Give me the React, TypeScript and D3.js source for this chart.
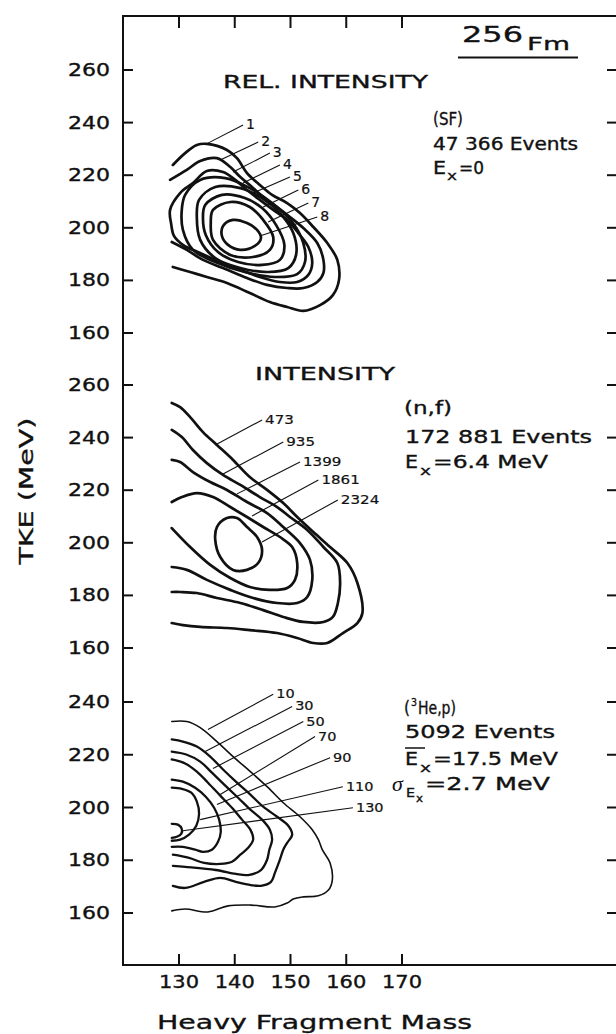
import React from 'react';
import * as d3 from 'd3';

type Pt = [number, number];

// ---------- tick values ----------
const massTicks = [130, 140, 150, 160, 170];
const sfTicks = [160, 180, 200, 220, 240, 260];
const nfTicks = [160, 180, 200, 220, 240, 260];
const heTicks = [160, 180, 200, 220, 240];

// ---------- (SF) relative-intensity contours, [mass, TKE] ----------
const sfLevel1: Pt[] = [[128.9,223.9],[131.1,228.4],[133.2,231.5],[135.0,231.9],[138.6,229.6],[140.4,226.5],[142.2,220.8],[144.5,216.3],[146.7,212.5],[149.4,209.4],[151.7,205.6],[154.1,200.3],[156.6,194.2],[158.4,187.8],[158.7,180.2],[157.6,174.4],[155.3,170.6],[152.3,168.4],[149.4,169.9],[146.3,171.8],[142.7,175.2],[138.6,179.0],[135.0,181.3],[132.0,183.2],[128.9,185.1]];
const sfLevel2: Pt[] = [[128.4,218.2],[131.4,222.0],[133.8,225.4],[136.8,226.5],[139.2,223.1],[141.0,219.3],[143.1,215.5],[145.1,211.7],[147.6,207.9],[149.9,204.1],[152.3,199.9],[154.8,194.2],[155.9,187.8],[155.9,182.8],[154.8,179.4],[152.3,177.1],[149.4,177.1],[145.8,178.3],[142.2,180.9],[137.9,184.7],[134.3,187.8],[131.4,191.6],[128.7,194.6]];
const sfLevel3: Pt[] = [[128.4,206.8],[130.2,213.2],[132.5,217.0],[135.0,221.6],[137.9,221.2],[140.1,218.2],[142.2,214.4],[144.5,210.6],[146.9,206.8],[149.4,203.0],[151.4,198.0],[153.2,192.7],[153.9,186.6],[153.2,182.1],[151.2,179.4],[148.1,179.4],[144.5,181.3],[141.0,184.0],[137.4,187.0],[133.8,190.4],[130.7,193.5],[129.1,196.9],[128.6,201.4]];
const sfLevel4: Pt[] = [[131.1,212.5],[133.8,218.2],[138.3,218.9],[142.7,215.1],[146.7,209.4],[150.3,202.2],[152.3,194.2],[152.6,187.0],[151.2,182.4],[147.2,181.3],[141.8,183.2],[136.5,187.0],[132.5,191.6],[130.7,199.2],[130.5,206.8]];
const sfLevel5: Pt[] = [[133.6,210.6],[136.5,215.5],[141.0,215.1],[144.9,211.3],[148.1,205.6],[150.5,198.0],[151.0,189.7],[149.6,184.7],[146.0,183.2],[141.0,184.7],[136.5,188.5],[133.8,195.4],[133.2,203.7]];
const sfLevel6: Pt[] = [[134.7,208.7],[137.7,212.5],[141.8,211.3],[144.9,207.5],[147.4,201.1],[148.9,193.5],[148.1,187.8],[144.9,185.9],[140.6,187.0],[137.0,190.8],[134.8,197.3],[134.3,203.7]];
const sfLevel7: Pt[] = [[136.1,206.8],[139.2,209.8],[142.7,207.9],[145.1,203.0],[146.9,196.5],[146.3,191.6],[143.3,188.9],[139.2,189.7],[136.1,195.4],[135.7,201.8]];
const sfLevel8: Pt[] = [[137.9,200.7],[139.7,203.0],[142.2,201.8],[144.0,199.2],[144.7,196.1],[143.6,193.1],[141.0,191.6],[138.8,193.5],[137.7,196.9]];
const sfLabels = ['1', '2', '3', '4', '5', '6', '7', '8'];
const sfLabelAnchors: Pt[] = [[135.2,232.2],[137.4,225.8],[139.7,221.2],[141.5,217.0],[143.3,213.2],[145.1,207.9],[146.0,202.2],[144.5,196.9]];
const sfLabelEnds: Pt[] = [[141.5,239.1],[144.2,232.6],[146.3,228.4],[148.1,223.9],[149.9,219.3],[151.4,214.4],[153.2,209.4],[154.8,204.1]];

// ---------- (n,f) intensity contours ----------
const nf473: Pt[] = [[128.7,253.2],[130.2,251.6],[132.0,247.8],[134.3,242.1],[136.8,237.2],[139.7,231.5],[142.7,225.0],[145.8,220.1],[148.7,215.1],[151.2,209.8],[154.1,204.1],[157.1,198.4],[160.2,192.3],[162.0,184.7],[162.9,173.3],[162.0,169.5],[159.4,165.7],[156.6,161.9],[154.1,161.9],[151.2,163.8],[147.6,165.7],[142.7,166.8],[138.6,167.6],[133.8,168.0],[130.7,168.7],[128.7,169.5]];
const nf935: Pt[] = [[128.7,242.9],[130.5,240.2],[132.5,235.3],[135.0,230.3],[137.9,225.8],[141.0,222.0],[144.5,217.4],[147.6,213.6],[149.9,209.8],[153.0,204.9],[155.9,198.4],[158.4,192.3],[158.9,184.7],[158.5,177.1],[157.6,171.8],[155.9,169.9],[152.3,169.9],[148.7,171.8],[145.1,174.4],[141.0,177.1],[136.8,179.0],[133.2,180.9],[130.2,181.3],[128.7,181.3]];
const nf1399: Pt[] = [[128.7,231.5],[130.2,230.7],[132.5,226.9],[135.6,223.1],[138.6,220.1],[142.2,215.5],[145.8,211.3],[148.7,206.0],[151.7,199.9],[153.5,193.5],[153.9,185.9],[153.0,179.4],[151.2,177.1],[147.6,177.1],[143.3,179.0],[139.2,182.1],[135.0,185.9],[131.4,189.7],[128.7,190.8]];
const nf1861: Pt[] = [[128.7,215.5],[130.5,217.4],[133.2,218.9],[136.1,217.4],[139.2,213.6],[142.2,209.8],[145.1,206.0],[148.1,202.2],[150.3,198.4],[151.2,192.3],[150.8,185.9],[149.4,182.8],[146.3,182.1],[142.7,183.2],[139.2,186.6],[135.6,191.6],[132.0,198.4],[128.7,205.6]];
const nf2324: Pt[] = [[138.6,209.4],[136.8,206.0],[136.5,201.1],[137.4,194.6],[139.7,189.7],[142.2,189.7],[144.2,192.3],[144.9,197.3],[144.0,202.2],[142.2,206.0],[140.4,209.4]];
const nfLabels = ['473', '935', '1399', '1861', '2324'];
const nfLabelAnchors: Pt[] = [[136.5,237.2],[137.9,226.2],[140.4,218.6],[143.1,210.2],[144.9,200.3]];
const nfLabelEnds: Pt[] = [[144.9,246.7],[148.7,238.3],[151.7,230.7],[155.0,223.9],[158.5,216.3]];

// ---------- (3He,p) contours ----------
const he10: Pt[] = [[128.7,232.6],[131.4,232.6],[133.8,230.3],[136.8,225.0],[139.7,219.3],[142.8,213.6],[145.8,207.9],[148.7,201.8],[151.7,196.5],[153.9,191.6],[155.0,187.8],[155.7,184.0],[157.1,179.0],[157.5,172.5],[156.8,168.7],[155.0,166.5],[152.3,166.1],[150.5,165.3],[149.4,163.8],[147.2,162.3],[142.9,163.0],[138.8,162.7],[135.2,160.4],[131.1,161.5],[128.7,160.8]];
const he30: Pt[] = [[128.7,225.8],[130.7,225.0],[133.2,223.1],[135.6,219.3],[137.9,214.4],[140.4,209.4],[142.8,204.9],[145.1,200.3],[147.6,196.5],[149.6,193.1],[150.3,189.7],[149.4,186.6],[148.7,184.0],[148.1,180.2],[147.2,175.2],[146.5,171.8],[144.7,170.3],[142.9,170.6],[140.2,171.8],[137.4,173.3],[134.5,171.8],[131.1,169.5],[128.9,170.3]];
const he50: Pt[] = [[128.7,221.2],[131.3,220.1],[133.8,217.4],[135.9,213.2],[138.3,208.3],[140.6,203.7],[142.8,199.2],[144.9,195.4],[146.3,191.6],[146.7,187.8],[146.2,184.0],[145.8,180.2],[144.7,176.3],[142.4,174.4],[140.2,174.8],[136.6,176.3],[131.1,177.5],[128.9,177.9]];
const he70: Pt[] = [[128.7,218.2],[131.1,216.7],[133.2,213.6],[135.2,209.4],[137.4,204.5],[139.5,199.9],[141.3,195.4],[142.8,191.6],[143.3,187.8],[142.4,184.7],[141.0,182.1],[139.5,179.4],[137.4,178.6],[134.5,179.0],[131.8,180.9],[128.9,182.1]];
const he90: Pt[] = [[128.7,210.6],[130.7,209.8],[132.9,207.5],[134.8,204.1],[136.3,199.9],[137.2,195.4],[137.5,190.8],[137.0,187.0],[135.9,184.0],[134.3,183.2],[132.9,184.0],[130.7,185.1],[128.7,185.1]];
const he110: Pt[] = [[128.7,207.5],[130.5,207.1],[132.2,205.6],[133.2,202.2],[133.6,197.6],[133.1,193.1],[131.8,189.7],[130.2,187.8],[128.7,187.4]];
const he130: Pt[] = [[128.7,193.8],[129.8,193.5],[130.5,191.9],[130.4,190.0],[129.6,188.9],[128.7,188.5]];
const heLabels = ['10', '30', '50', '70', '90', '110', '130'];
const heLabelAnchors: Pt[] = [[135.2,229.6],[134.7,221.2],[136.1,214.8],[137.4,204.9],[136.8,201.1],[133.8,195.4],[130.7,191.2]];
const heLabelEnds: Pt[] = [[146.9,242.9],[150.3,238.3],[152.3,232.6],[154.4,226.9],[157.1,218.9],[159.4,207.9],[161.2,199.9]];

const FONT = '"DejaVu Sans", "Liberation Sans", Arial, sans-serif';

type Contour = { pts: Pt[]; closed: boolean; w: number };

export default function App() {
  const x = d3.scaleLinear().domain([130, 170]).range([179, 402]);
  const ySF = d3.scaleLinear().domain([160, 260]).range([333, 70]);
  const yNF = d3.scaleLinear().domain([160, 260]).range([648, 385]);
  const yHE = d3.scaleLinear().domain([160, 240]).range([913, 702]);

  const left = 123, top = 16, right = 616, bottom = 965;

  const sfContours: Contour[] = [sfLevel1, sfLevel2, sfLevel3, sfLevel4, sfLevel5, sfLevel6, sfLevel7, sfLevel8]
    .map((pts, i) => ({ pts, closed: i >= 2, w: 2.7 }));
  const nfContours: Contour[] = [nf473, nf935, nf1399, nf1861, nf2324]
    .map((pts, i) => ({ pts, closed: i === 4, w: 2.7 }));
  const heContours: Contour[] = [he10, he30, he50, he70, he90, he110, he130]
    .map((pts, i) => ({ pts, closed: false, w: i === 0 ? 1.6 : 2.3 }));

  const path = (c: Contour, y: d3.ScaleLinear<number, number>) => {
    const gen = d3.line<Pt>()
      .x(d => x(d[0]))
      .y(d => y(d[1]))
      .curve(c.closed ? d3.curveCatmullRomClosed.alpha(0.5) : d3.curveCatmullRom.alpha(0.5));
    return gen(c.pts) || '';
  };

  const panels = [
    { y: ySF, ticks: sfTicks, contours: sfContours, labels: sfLabels, anchors: sfLabelAnchors, ends: sfLabelEnds, lfs: 14, lw: 0 },
    { y: yNF, ticks: nfTicks, contours: nfContours, labels: nfLabels, anchors: nfLabelAnchors, ends: nfLabelEnds, lfs: 13, lw: 9.6 },
    { y: yHE, ticks: heTicks, contours: heContours, labels: heLabels, anchors: heLabelAnchors, ends: heLabelEnds, lfs: 12, lw: 9.2 },
  ];

  const txt = (props: any, s: string, len?: number) => (
    <text fontFamily={FONT} fill="#111" stroke="#111" strokeWidth={0.35} {...props} {...(len ? { textLength: len, lengthAdjust: 'spacingAndGlyphs' } : {})}>{s}</text>
  );

  return (
    <svg width={616} height={1034} style={{ position: 'absolute', left: 0, top: 0, background: '#fff' }}>
      <rect x={0} y={0} width={616} height={1034} fill="#fff" />
      {/* frame */}
      <path d={`M${right},${top}H${left}V${bottom}H${right}`} fill="none" stroke="#111" strokeWidth={2} />
      {/* x ticks top and bottom */}
      {massTicks.map(v => (
        <g key={'xt' + v}>
          <line x1={x(v)} x2={x(v)} y1={top} y2={top + 12} stroke="#111" strokeWidth={2} />
          <line x1={x(v)} x2={x(v)} y1={bottom} y2={bottom - 11} stroke="#111" strokeWidth={2} />
          {txt({ x: x(v), y: 988, fontSize: 17, textAnchor: 'middle' }, String(v), 40)}
        </g>
      ))}
      {panels.map((p, pi) => (
        <g key={'p' + pi}>
          {p.ticks.map(v => (
            <g key={'yt' + v}>
              <line x1={left} x2={left + 10} y1={p.y(v)} y2={p.y(v)} stroke="#111" strokeWidth={2} />
              <line x1={right - 9} x2={right} y1={p.y(v)} y2={p.y(v)} stroke="#111" strokeWidth={2} />
              {txt({ x: 110, y: p.y(v) + 6, fontSize: 17, textAnchor: 'end' }, String(v), 42)}
            </g>
          ))}
          {p.contours.map((c, ci) => (
            <path key={'c' + ci} d={path(c, p.y)} fill="none" stroke="#111" strokeWidth={c.w} strokeLinejoin="round" strokeLinecap="round" />
          ))}
          {p.labels.map((l, li) => {
            const a = p.anchors[li], e = p.ends[li];
            return (
              <g key={'l' + li}>
                <line x1={x(a[0])} y1={p.y(a[1])} x2={x(e[0])} y2={p.y(e[1])} stroke="#111" strokeWidth={1.1} />
                {txt({ x: x(e[0]) + 3, y: p.y(e[1]) + 4, fontSize: p.lfs, strokeWidth: 0.2 }, l, p.lw ? p.lw * l.length : undefined)}
              </g>
            );
          })}
        </g>
      ))}

      {/* element label */}
      {txt({ x: 462, y: 42, fontSize: 21 }, '256', 61)}
      {txt({ x: 527, y: 50, fontSize: 18 }, 'Fm', 43)}
      <line x1={458} x2={578} y1={57.5} y2={57.5} stroke="#111" strokeWidth={2} />

      {/* panel 1 text */}
      {txt({ x: 223, y: 88, fontSize: 17 }, 'REL. INTENSITY', 205)}
      {txt({ x: 433, y: 125, fontSize: 17 }, '(SF)', 30)}
      {txt({ x: 433, y: 150, fontSize: 17 }, '47 366 Events', 145)}
      {txt({ x: 433, y: 174, fontSize: 17 }, 'E', 13)}
      {txt({ x: 447, y: 180, fontSize: 13 }, 'x', 10)}
      {txt({ x: 459, y: 174, fontSize: 17 }, '=0', 25)}

      {/* panel 2 text */}
      {txt({ x: 255, y: 380, fontSize: 17 }, 'INTENSITY', 140)}
      {txt({ x: 404, y: 414, fontSize: 17 }, '(n,f)', 48)}
      {txt({ x: 405, y: 443, fontSize: 17 }, '172 881 Events', 187)}
      {txt({ x: 405, y: 468, fontSize: 17 }, 'E', 13)}
      {txt({ x: 420, y: 475, fontSize: 13 }, 'x', 11)}
      {txt({ x: 433, y: 468, fontSize: 17 }, '=6.4 MeV', 115)}

      {/* panel 3 text */}
      {txt({ x: 404, y: 714, fontSize: 17 }, '(', 6)}
      {txt({ x: 411, y: 706, fontSize: 11 }, '3', 6)}
      {txt({ x: 418, y: 714, fontSize: 17 }, 'He,p)', 38)}
      {txt({ x: 405, y: 738, fontSize: 17 }, '5092 Events', 150)}
      <line x1={405} x2={425} y1={748} y2={748} stroke="#111" strokeWidth={1.5} />
      {txt({ x: 405, y: 765, fontSize: 17 }, 'E', 13)}
      {txt({ x: 420, y: 772, fontSize: 13 }, 'x', 11)}
      {txt({ x: 433, y: 765, fontSize: 17 }, '=17.5 MeV', 125)}
      <text x={392} y={791} fontFamily='"Liberation Serif", "DejaVu Serif", serif' fontStyle="italic" fontSize={22} fill="#111">σ</text>
      {txt({ x: 406, y: 797, fontSize: 12 }, 'E', 9)}
      {txt({ x: 416, y: 802, fontSize: 10 }, 'x', 7)}
      {txt({ x: 425, y: 790, fontSize: 17 }, '=2.7 MeV', 125)}

      {/* axis titles */}
      {txt({ x: 157, y: 1029, fontSize: 20 }, 'Heavy Fragment Mass', 315)}
      {txt({ transform: 'translate(33,491) rotate(-90)', fontSize: 20, textAnchor: 'middle' }, 'TKE (MeV)', 147)}
    </svg>
  );
}
